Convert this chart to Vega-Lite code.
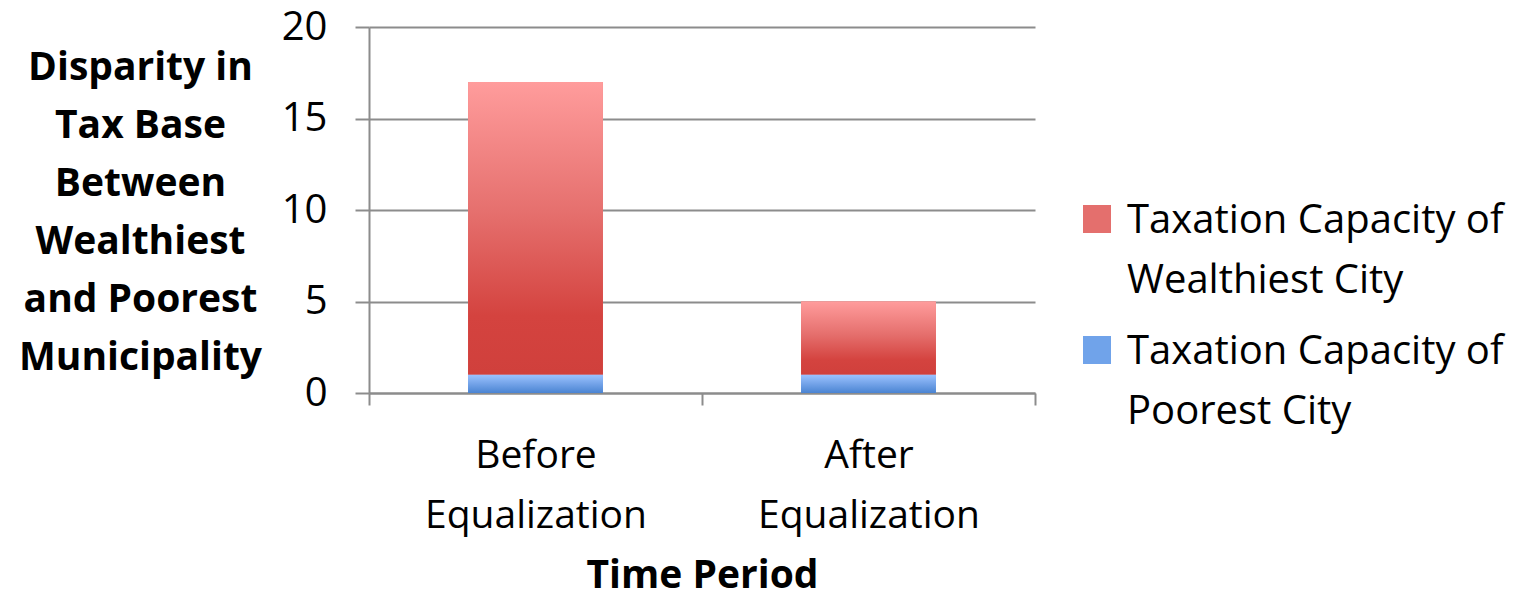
{
  "$schema": "https://vega.github.io/schema/vega-lite/v6.json",
  "width": 666,
  "height": 366,
  "autosize": "none",
  "padding": {"left": 369, "top": 27, "right": 498, "bottom": 204},
  "background": "white",
  "config": {
    "font": "Open Sans",
    "view": {"stroke": null}
  },
  "data": {
    "values": [
      {"period": "Before Equalization", "series": "Taxation Capacity of Poorest City", "low": 0, "high": 1},
      {"period": "Before Equalization", "series": "Taxation Capacity of Wealthiest City", "low": 1, "high": 17},
      {"period": "After Equalization", "series": "Taxation Capacity of Poorest City", "low": 0, "high": 1},
      {"period": "After Equalization", "series": "Taxation Capacity of Wealthiest City", "low": 1, "high": 5}
    ]
  },
  "encoding": {
    "x": {
      "field": "period",
      "type": "nominal",
      "sort": ["Before Equalization", "After Equalization"],
      "scale": {"paddingInner": 0, "paddingOuter": 0},
      "axis": {
        "title": "Time Period",
        "titleFontSize": 39,
        "titleFontWeight": "bold",
        "titleColor": "black",
        "titleBaseline": "top",
        "titleY": 163,
        "labelAngle": 0,
        "labelFontSize": 39,
        "labelColor": "black",
        "labelLimit": 600,
        "labelExpr": "split(datum.label, ' ')",
        "labelLineHeight": 60,
        "labelPadding": 31,
        "labelBaseline": "top",
        "tickBand": "extent",
        "tickSize": 12,
        "tickColor": "#8c8c8c",
        "tickWidth": 2,
        "domainColor": "#8c8c8c",
        "domainWidth": 2
      }
    },
    "y": {
      "field": "low",
      "type": "quantitative",
      "scale": {"domain": [0, 20]},
      "axis": {
        "values": [0, 5, 10, 15, 20],
        "title": ["Disparity in", "Tax Base", "Between", "Wealthiest", "and Poorest", "Municipality"],
        "titleAngle": 0,
        "titleAlign": "center",
        "titleBaseline": "top",
        "titleX": -229,
        "titleY": 21,
        "titleLineHeight": 58,
        "titleFontSize": 39,
        "titleFontWeight": "bold",
        "titleColor": "black",
        "labelFontSize": 40,
        "labelColor": "black",
        "labelPadding": 28,
        "tickSize": 14,
        "tickColor": "#8c8c8c",
        "tickWidth": 2,
        "domainColor": "#8c8c8c",
        "domainWidth": 2,
        "grid": true,
        "gridColor": "#8c8c8c",
        "gridWidth": 2
      }
    },
    "y2": {"field": "high"}
  },
  "layer": [
    {
      "mark": {"type": "bar", "width": {"band": 0.405}},
      "encoding": {
        "color": {
          "field": "series",
          "type": "nominal",
          "scale": {
            "domain": ["Taxation Capacity of Wealthiest City", "Taxation Capacity of Poorest City"],
            "range": ["#e46f6d", "#70a3ea"]
          },
          "legend": {
            "title": null,
            "orient": "none",
            "legendX": 708,
            "legendY": 172,
            "symbolType": "square",
            "symbolSize": 784,
            "symbolStrokeWidth": 0,
            "labelFontSize": 40,
            "labelColor": "black",
            "labelLimit": 600,
            "labelOffset": 10,
            "labelBaseline": "alphabetic",
            "labelExpr": "[slice(datum.label, 0, 20), slice(datum.label, 21)]",
            "rowPadding": 29,
            "encode": {
              "labels": {"update": {"dy": {"value": 14}, "lineHeight": {"value": 60}}}
            }
          }
        }
      }
    },
    {
      "transform": [{"filter": "datum.series == 'Taxation Capacity of Wealthiest City'"}],
      "mark": {
        "type": "bar",
        "width": {"band": 0.405},
        "color": {
          "gradient": "linear",
          "x1": 0, "y1": 0, "x2": 0, "y2": 1,
          "stops": [
            {"offset": 0, "color": "#ff9c9c"},
            {"offset": 0.45, "color": "#e56f6d"},
            {"offset": 0.8, "color": "#d4433f"},
            {"offset": 1, "color": "#d0403c"}
          ]
        }
      }
    },
    {
      "transform": [{"filter": "datum.series == 'Taxation Capacity of Poorest City'"}],
      "mark": {
        "type": "bar",
        "width": {"band": 0.405},
        "color": {
          "gradient": "linear",
          "x1": 0, "y1": 0, "x2": 0, "y2": 1,
          "stops": [
            {"offset": 0, "color": "#9cc2ff"},
            {"offset": 1, "color": "#4a84d2"}
          ]
        }
      }
    }
  ]
}
